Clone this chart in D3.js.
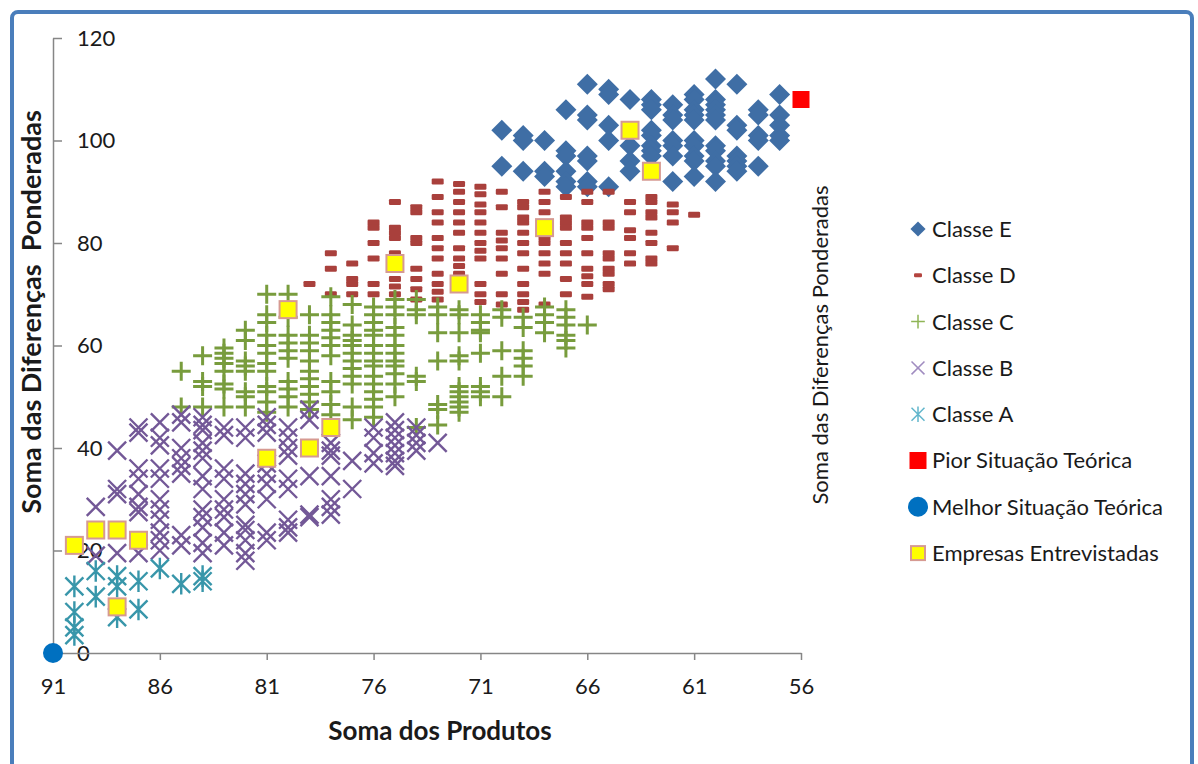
<!DOCTYPE html>
<html>
<head>
<meta charset="utf-8">
<script src="https://cdn.jsdelivr.net/npm/d3@7"></script>
<style>
  body { margin: 0; background: #fff; }
  text { font-family: Lato, "Open Sans", sans-serif; }
</style>
</head>
<body>
<svg id="chart" width="1198" height="764"></svg>
<script>
// x ticks / y ticks
const xTicks = [91, 86, 81, 76, 71, 66, 61, 56];
const yTicks = [0, 20, 40, 60, 80, 100, 120];

// each series: [soma dos produtos, [soma das diferenças ponderadas...]]
const classE = [
  [70, [102, 95]],
  [69, [101, 100, 94]],
  [68, [100, 94, 93]],
  [67, [106, 98, 97, 94, 92, 91]],
  [66, [111, 105, 104, 97, 96, 92, 91]],
  [65, [110, 109, 103, 100, 91]],
  [64, [108, 99, 96, 94]],
  [63, [108, 107, 106, 102, 101, 99, 98, 97]],
  [62, [107, 105, 104, 100, 99, 97, 92]],
  [61, [109, 108, 106, 105, 104, 100, 99, 97, 96, 93]],
  [60, [112, 108, 107, 106, 105, 104, 99, 98, 96, 95, 92]],
  [59, [111, 103, 102, 97, 96, 95, 94]],
  [58, [106, 105, 101, 100, 95]],
  [57, [109, 105, 103, 101, 100]]
];

const classD = [
  [79, [72]],
  [78, [78, 75, 70]],
  [77, [76, 73, 72, 70]],
  [76, [84, 83, 80, 77, 72, 70]],
  [75, [88, 83, 82, 81, 78, 77, 75, 73, 71.5, 70]],
  [74, [87, 86, 81, 80, 75, 73, 71, 69]],
  [73, [92, 89, 86, 84, 81, 79, 77, 74, 72, 70.5, 69]],
  [72, [91.5, 90, 88, 86, 84, 82, 79, 77, 75.5, 74, 73]],
  [71, [91, 89.5, 87.5, 86, 84, 82, 80, 78.5, 77, 72, 70, 68.5]],
  [70, [90, 87, 82, 80.5, 79, 77, 74, 70, 68]],
  [69, [88, 87, 85, 84, 82, 80, 78, 75, 72, 70, 68.5, 67]],
  [68, [90, 88, 86, 84, 81, 80, 78, 76, 74, 68]],
  [67, [89, 85, 84, 83, 80, 78, 76, 73, 70]],
  [66, [90, 88, 84, 83, 81, 78, 75, 73.5, 72, 69.5]],
  [65, [90, 84, 83, 78, 77, 75, 74, 72, 71]],
  [64, [88, 86, 82.5, 81, 78, 76]],
  [63, [89, 88, 86, 85, 82, 80, 77, 76]],
  [62, [87.5, 86, 84, 79]],
  [61, [85.5]]
];

const classC = [
  [85, [55, 48]],
  [84, [58, 53, 52, 48]],
  [83, [59.5, 58.5, 57.5, 56.5, 55, 52.5, 51.5, 48]],
  [82, [63, 61, 57, 56, 55, 51, 50, 48]],
  [81, [70, 66, 64.5, 62, 60, 58.5, 56.5, 55, 52, 51, 49, 47]],
  [80, [70, 65.5, 62, 60.5, 59, 57.5, 53, 51.5, 50, 48]],
  [79, [66, 62, 60.5, 59, 57, 55, 53.5, 52, 50.5, 49, 47.5]],
  [78, [69.5, 66, 64.5, 63, 61.5, 60, 58, 53, 51, 48.5, 46.5]],
  [77, [68, 64, 62, 61, 60, 58.5, 57, 55.5, 54, 52.5, 48, 45.5]],
  [76, [67.5, 66, 64.5, 63, 62, 60, 58.5, 57, 56, 54, 52.5, 51, 49.5, 48, 46]],
  [75, [69, 67.5, 66, 63.5, 62, 60, 58.5, 57, 56, 54.5, 52.5, 50]],
  [74, [69, 67, 66, 54, 53, 44]],
  [73, [67.5, 66, 62.5, 57, 48.5, 47.5, 44.5]],
  [72, [67, 66, 62.5, 58, 57, 52, 51, 50, 49, 48, 47]],
  [71, [66, 64.5, 63, 62.5, 58.5, 52, 51, 50]],
  [70, [67, 65.5, 59, 54, 50]],
  [69, [65.5, 63.5, 59, 57.5, 56, 54]],
  [68, [67.5, 66, 64.5, 62.5]],
  [67, [67, 65.5, 64, 62, 61, 59.5]],
  [66, [64]]
];

const classB = [
  [89, [28.5, 19]],
  [88, [39.5, 32, 31, 19.5]],
  [87, [44, 43, 36, 34, 31, 28.5, 27.5, 19.5]],
  [86, [45, 42, 40.5, 36, 34, 30, 28, 26, 23.5, 22, 20]],
  [85, [46.5, 45, 40, 38, 36.5, 35, 23, 21]],
  [84, [46, 44.5, 43.5, 41, 39.5, 38, 34.5, 32, 28, 26.5, 24.5, 21.5, 19.5]],
  [83, [44, 42.5, 36, 34, 30, 28, 26.5, 23.5, 21]],
  [82, [44, 42, 35, 33, 31, 29, 25, 24, 22, 19.5, 18]],
  [81, [46, 44.5, 43, 37, 35, 33, 30, 23.5, 22]],
  [80, [44, 42, 40, 38.5, 34, 32, 26, 24.5, 23.5]],
  [79, [47.5, 45.5, 34.5, 27, 26.5]],
  [78, [41, 39.5, 38.5, 34.5, 30, 28.5, 27]],
  [77, [37.5, 32]],
  [76, [44, 42, 39, 37]],
  [75, [45, 43.5, 42, 40.5, 39, 37.5, 36.5]],
  [74, [44, 42.5, 41, 39.5]],
  [73, [41]]
];

const classA = [
  [90, [13, 8, 5, 3.5]],
  [89, [16, 11]],
  [88, [15, 13, 7]],
  [87, [14, 8.5]],
  [86, [16.5]],
  [85, [13.5]],
  [84, [15, 14]]
];

const pior = [[56, [108]]];
const melhor = [[91, [0]]];

const empresas = [
  [90, [21]], [89, [24]], [88, [24, 9]], [87, [22]],
  [81, [38]], [80, [67]], [79, [40]], [78, [44]],
  [75, [76]], [72, [72]], [68, [83]], [64, [102]], [63, [94]]
];

const series = [
  { name: "Classe E", data: classE, type: "diamond", color: "#3f6ea5" },
  { name: "Classe D", data: classD, type: "dash", color: "#a9403c" },
  { name: "Classe C", data: classC, type: "plus", color: "#789c3d" },
  { name: "Classe B", data: classB, type: "cross", color: "#735897" },
  { name: "Classe A", data: classA, type: "star", color: "#3896aa" },
  { name: "Pior Situação Teórica", data: pior, type: "square", color: "#ff0000" },
  { name: "Melhor Situação Teórica", data: melhor, type: "circle", color: "#0070c0" },
  { name: "Empresas Entrevistadas", data: empresas, type: "company", color: "#ffff00" }
];

const points = (cols) => cols.flatMap(([x, ys]) => ys.map((y) => ({ x, y })));

const svg = d3.select("#chart");

// chart frame
svg.append("rect")
  .attr("x", 12).attr("y", 12)
  .attr("width", 1180).attr("height", 800)
  .attr("rx", 6)
  .attr("fill", "none")
  .attr("stroke", "#4a7ebb")
  .attr("stroke-width", 4);

const x = d3.scaleLinear().domain([91, 56]).range([53, 801]);
const y = d3.scaleLinear().domain([0, 120]).range([653, 38]);

// y axis (labels on the inner side because x is reversed)
const yAxis = svg.append("g")
  .attr("transform", `translate(${x(91)},0)`)
  .call(d3.axisRight(y).tickValues(yTicks).tickSizeInner(9).tickSizeOuter(0).tickPadding(15));

const xAxis = svg.append("g")
  .attr("transform", `translate(0,${y(0)})`)
  .call(d3.axisBottom(x).tickValues(xTicks).tickSizeInner(7).tickSizeOuter(0).tickPadding(18));

[xAxis, yAxis].forEach((g) => {
  g.select(".domain").attr("stroke", "#868686").attr("stroke-width", 1.5);
  g.selectAll(".tick line").attr("stroke", "#868686").attr("stroke-width", 1.5);
  g.selectAll(".tick text")
    .attr("fill", "#1a1a1a")
    .style("font-family", "Lato, 'Open Sans', sans-serif")
    .style("font-size", "22px");
});

// marker drawing
function drawMarker(sel, type, color, legend) {
  const s = legend ? 0.72 : 1;
  if (type === "diamond") {
    const r = 10.5 * s;
    sel.append("path")
      .attr("d", `M0,${-r}L${r},0L0,${r}L${-r},0Z`)
      .attr("fill", color);
  } else if (type === "dash") {
    const w = legend ? 8 : 12;
    const h = legend ? 4 : 6;
    sel.append("rect")
      .attr("x", -w / 2).attr("y", -h / 2)
      .attr("width", w).attr("height", h)
      .attr("rx", 1.2)
      .attr("fill", color);
  } else if (type === "plus") {
    const r = 9.5 * s;
    sel.append("path")
      .attr("d", `M${-r},0H${r}M0,${-r}V${r}`)
      .attr("stroke", color)
      .attr("stroke-width", legend ? 1.5 : 3);
  } else if (type === "cross") {
    const r = 9 * s;
    sel.append("path")
      .attr("d", `M${-r},${-r}L${r},${r}M${-r},${r}L${r},${-r}`)
      .attr("stroke", color)
      .attr("stroke-width", legend ? 1.5 : 2.4);
  } else if (type === "star") {
    const r = 9 * s;
    sel.append("path")
      .attr("d", `M${-r},${-r}L${r},${r}M${-r},${r}L${r},${-r}M0,${-r * 1.2}V${r * 1.2}`)
      .attr("stroke", color)
      .attr("stroke-width", legend ? 1.5 : 2.4);
  } else if (type === "square") {
    const r = 8.5;
    sel.append("rect")
      .attr("x", -r).attr("y", -r)
      .attr("width", 2 * r).attr("height", 2 * r)
      .attr("fill", color);
  } else if (type === "circle") {
    sel.append("circle").attr("r", 10).attr("fill", color);
  } else if (type === "company") {
    const r = legend ? 7 : 8.5;
    sel.append("rect")
      .attr("x", -r).attr("y", -r)
      .attr("width", 2 * r).attr("height", 2 * r)
      .attr("fill", color)
      .attr("stroke", "#d69a92")
      .attr("stroke-width", 2);
  }
}

const plot = svg.append("g");
series.forEach((s) => {
  plot.append("g")
    .selectAll("g")
    .data(points(s.data))
    .join("g")
    .attr("transform", (d) => `translate(${x(d.x)},${y(d.y)})`)
    .each(function () {
      drawMarker(d3.select(this), s.type, s.color, false);
    });
});

// axis titles
svg.append("text")
  .attr("x", 440).attr("y", 740)
  .attr("text-anchor", "middle")
  .style("font-size", "26px")
  .style("font-weight", "bold")
  .attr("fill", "#1a1a1a")
  .text("Soma dos Produtos");

svg.append("text")
  .attr("transform", "translate(41,312) rotate(-90)")
  .attr("text-anchor", "middle")
  .style("font-size", "27px")
  .style("font-weight", "bold")
  .style("white-space", "pre")
  .attr("fill", "#1a1a1a")
  .text("Soma das Diferenças  Ponderadas");

svg.append("text")
  .attr("transform", "translate(828,345) rotate(-90)")
  .attr("text-anchor", "middle")
  .style("font-size", "22px")
  .attr("fill", "#1a1a1a")
  .text("Soma das Diferenças Ponderadas");

// legend
const legendColors = {
  "Classe E": "#3f6ea5",
  "Classe D": "#b4443f",
  "Classe C": "#8fb556",
  "Classe B": "#a08cc0",
  "Classe A": "#62b6cc"
};
const legend = svg.append("g").attr("transform", "translate(918,229)");
const items = legend.selectAll("g")
  .data(series)
  .join("g")
  .attr("transform", (d, i) => `translate(0,${i * 46.3})`);

items.each(function (d) {
  drawMarker(d3.select(this), d.type, legendColors[d.name] || d.color, true);
});

items.append("text")
  .attr("x", 14)
  .attr("dy", "0.36em")
  .style("font-size", "22px")
  .attr("fill", "#1a1a1a")
  .text((d) => d.name);
</script>
</body>
</html>
